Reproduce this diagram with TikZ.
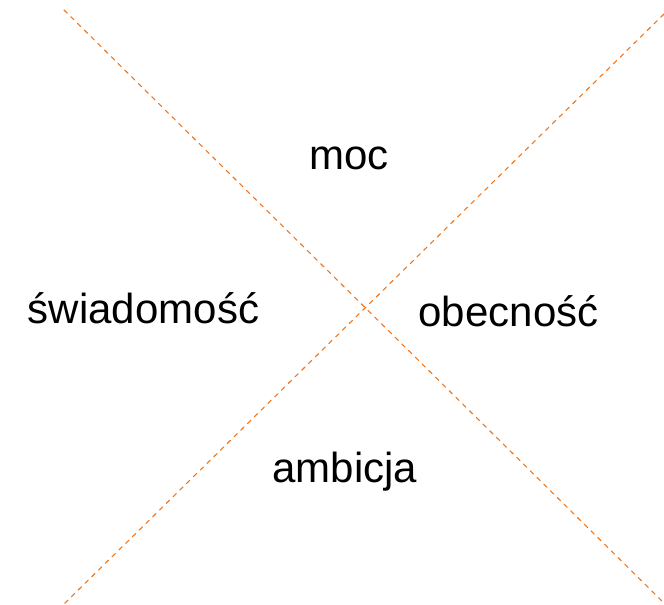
\documentclass[tikz,border=0pt]{standalone}
\usepackage{fontspec}
\setmainfont{Liberation Sans}
\usetikzlibrary{positioning}
\definecolor{crossorange}{RGB}{240,118,30}
\tikzset{
  every node/.style={font=\fontsize{42}{48}\selectfont, inner sep=0pt},
  word/.style={anchor=base},
  cross line/.style={draw=crossorange, line width=1.1pt, dash pattern=on 4.5pt off 5pt}
}

\begin{document}
\begin{tikzpicture}[x=1pt,y=-1pt,line cap=round,line join=round]
  \useasboundingbox (0,0) rectangle (664,605);

  \coordinate (tl) at (64,10);
  \coordinate (br) at (664,603);
  \coordinate (tr) at (664,14);
  \coordinate (bl) at (64,604);
  \draw[cross line] (tl) -- (br);
  \draw[cross line] (tr) -- (bl);

  \node[word] (moc) at (349,169) {moc};
  \node[word] (swiadomosc) at (143.5,323) {świadomość};
  \node[word] (obecnosc) at (508.5,326) {obecność};
  \node[word] (ambicja) at (345,482) {ambicja};

\end{tikzpicture}
\end{document}
